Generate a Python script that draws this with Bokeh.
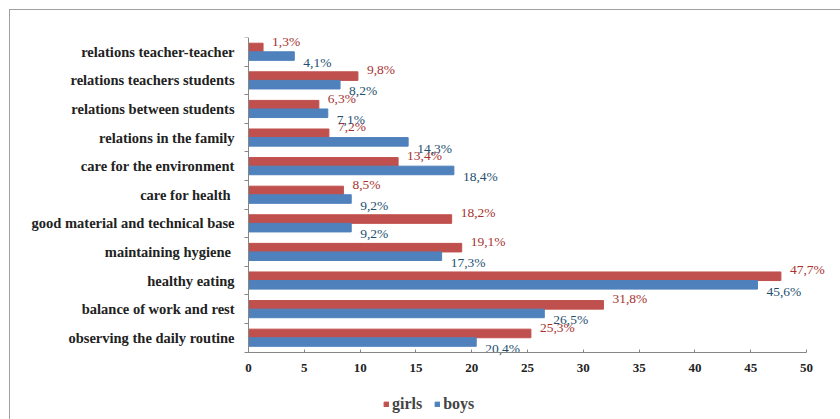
from bokeh.plotting import figure
from bokeh.models import Range1d, Legend, LegendItem, ColumnDataSource, FixedTicker
from bokeh.transform import dodge
from bokeh.core.properties import value
from bokeh.embed import file_html
from bokeh.resources import INLINE

# categories listed top to bottom as in the chart
categories = [
    "relations teacher-teacher",
    "relations teachers students",
    "relations between students",
    "relations in the family",
    "care for the environment",
    "care for  health",
    "good material and technical base",
    "maintaining  hygiene",
    "healthy eating",
    "balance of work and rest",
    "observing the daily routine",
]
girls = [1.3, 9.8, 6.3, 7.2, 13.4, 8.5, 18.2, 19.1, 47.7, 31.8, 25.3]
boys = [4.1, 8.2, 7.1, 14.3, 18.4, 9.2, 9.2, 17.3, 45.6, 26.5, 20.4]
x_ticks = [0, 5, 10, 15, 20, 25, 30, 35, 40, 45, 50]

GIRL_COLOR = "#C0504D"
BOY_COLOR = "#4F81BD"
SERIF = "Liberation Serif"

n = len(categories)
ypos = [n - 1 - i for i in range(n)]  # first category on top


def fmt(v):
    return f"{v:.1f}%".replace(".", ",")


src = ColumnDataSource(dict(
    y=ypos,
    girls=girls,
    boys=boys,
    gl=[fmt(v) for v in girls],
    bl=[fmt(v) for v in boys],
))

p = figure(
    width=830, height=409,
    y_range=Range1d(-2.86, n - 0.5),
    x_range=Range1d(-21.33, 53.04),
    output_backend="svg", toolbar_location=None,
    min_border_left=0, min_border_right=0, min_border_top=27, min_border_bottom=0,
)
p.margin = (10, 0, 0, 10)
p.styles = {"outline": "1px solid #A0A0A0"}

rg = p.hbar(y=dodge("y", 0.15), right="girls", left=0, height=0.30,
            source=src, fill_color=GIRL_COLOR, line_color=GIRL_COLOR)
rb = p.hbar(y=dodge("y", -0.15), right="boys", left=0, height=0.30,
            source=src, fill_color=BOY_COLOR, line_color=BOY_COLOR)

p.text(x="girls", y=dodge("y", 0.30), text="gl", source=src,
       x_offset=9, y_offset=-2, text_baseline="middle", text_align="left",
       text_font=value(SERIF), text_font_size="13.5px", text_color="#A8322F")
p.text(x="boys", y=dodge("y", -0.30), text="bl", source=src,
       x_offset=9, y_offset=2, text_baseline="middle", text_align="left",
       text_font=value(SERIF), text_font_size="13.5px", text_color="#24506E")

p.xgrid.grid_line_color = None
p.ygrid.grid_line_color = None
p.outline_line_color = None

xa = p.xaxis[0]
xa.fixed_location = -0.5
xa.bounds = (x_ticks[0], x_ticks[-1])
xa.ticker = FixedTicker(ticks=x_ticks)
xa.minor_tick_line_color = None
xa.major_tick_in = 3
xa.major_tick_out = 0
xa.major_tick_line_color = "#868686"
xa.axis_line_color = "#868686"
xa.major_label_standoff = 12
xa.major_label_text_font = SERIF
xa.major_label_text_font_style = "bold"
xa.major_label_text_font_size = "13px"
xa.major_label_text_color = "#222222"

ya = p.yaxis[0]
ya.fixed_location = 0
ya.bounds = (-0.5, n - 0.5)
ya.ticker = FixedTicker(ticks=ypos, minor_ticks=[i - 0.5 for i in range(n + 1)])
ya.major_label_overrides = {y: c for y, c in zip(ypos, categories)}
ya.axis_line_color = "#868686"
ya.major_tick_line_color = None
ya.minor_tick_line_color = "#868686"
ya.minor_tick_in = 0
ya.minor_tick_out = 4
ya.major_label_standoff = 8
ya.major_label_text_font = SERIF
ya.major_label_text_font_style = "bold"
ya.major_label_text_font_size = "14.5px"
ya.major_label_text_color = "#222222"

legend = Legend(
    items=[LegendItem(label="girls", renderers=[rg]), LegendItem(label="boys", renderers=[rb])],
    orientation="horizontal", location=(373, 6),
    label_text_font=SERIF, label_text_font_style="bold", label_text_font_size="16px",
    glyph_width=6, glyph_height=6, label_standoff=3, spacing=12,
    background_fill_alpha=0, border_line_color=None, padding=2, margin=0,
)
p.add_layout(legend, "center")

open("out.html", "w").write(file_html(p, INLINE))
